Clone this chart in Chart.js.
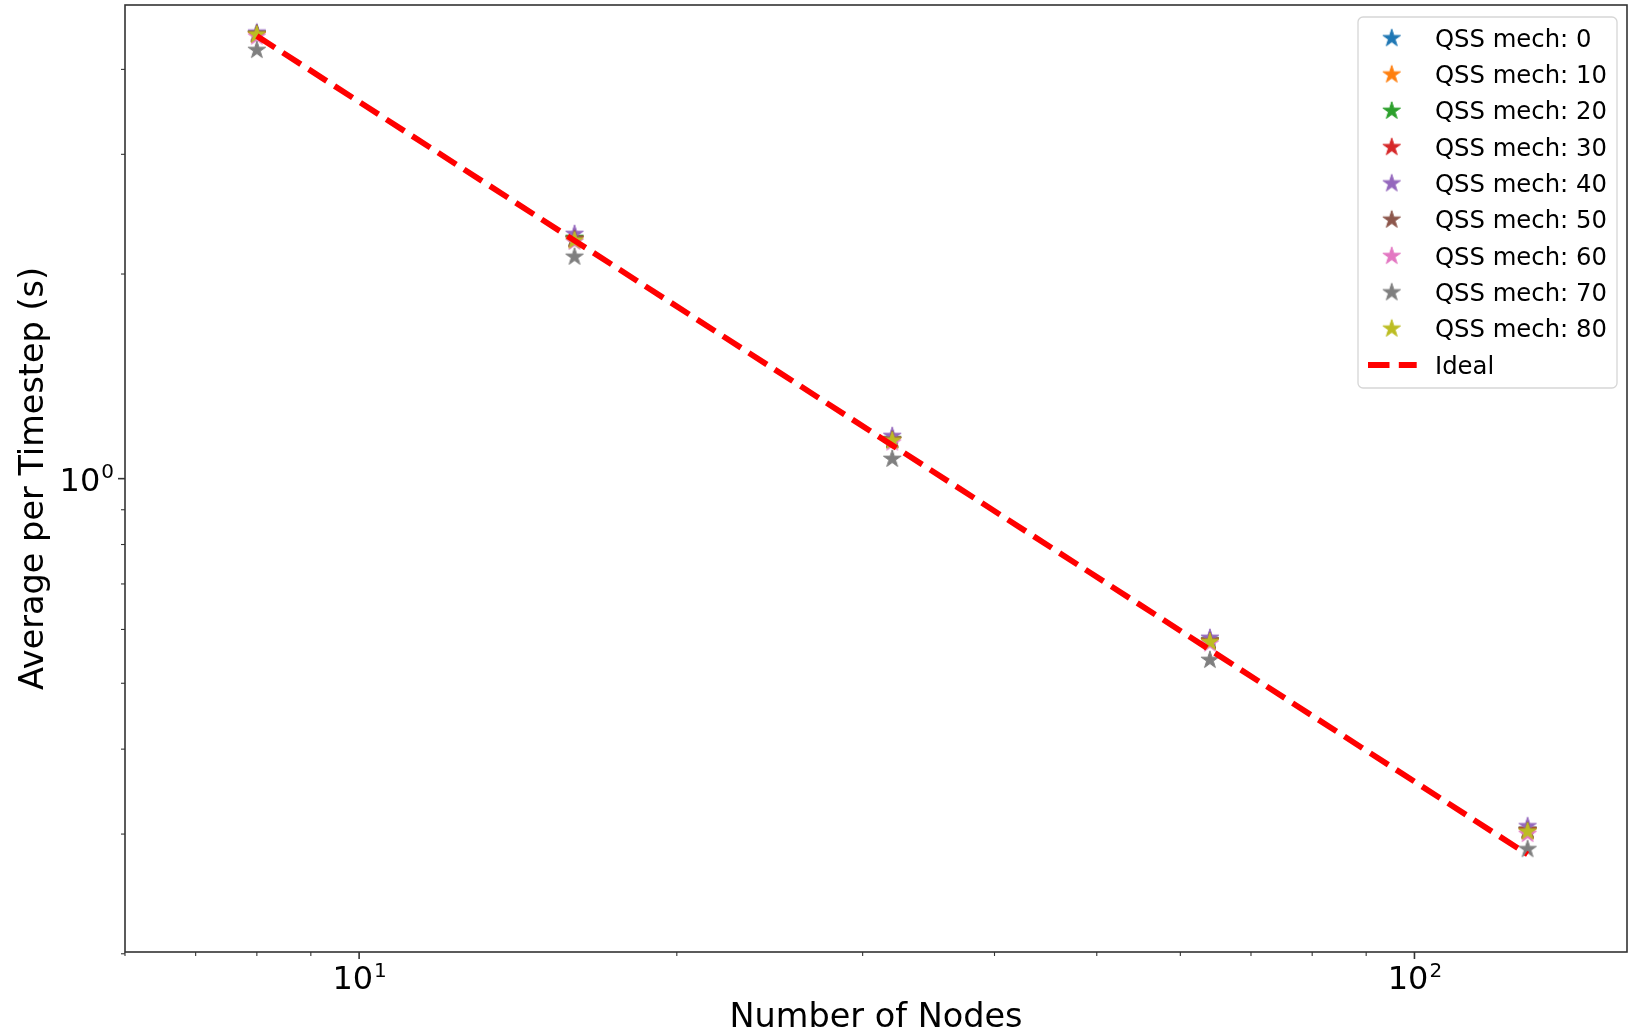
<!DOCTYPE html>
<html>
<head>
<meta charset="utf-8">
<title>Strong scaling: average time per timestep</title>
<style>
  html, body { margin: 0; padding: 0; background: #ffffff; }
  #wrap { width: 1638px; height: 1033px; position: relative; }
  canvas { display: block; }
</style>
<script src="https://cdn.jsdelivr.net/npm/chart.js@4.4.1/dist/chart.umd.min.js"></script>
</head>
<body>
<div id="wrap"><canvas id="chart" width="1638" height="1033"></canvas></div>
<script>
// ---- data -------------------------------------------------------------
const nodes = [8, 16, 32, 64, 128];

const qss0  = [4.51, 2.25, 1.140, 0.577, 0.304];
const qss10 = [4.50, 2.25, 1.140, 0.576, 0.303];
const qss20 = [4.51, 2.26, 1.142, 0.578, 0.304];
const qss30 = [4.50, 2.25, 1.139, 0.577, 0.304];
const qss40 = [4.53, 2.29, 1.155, 0.583, 0.308];
const qss50 = [4.51, 2.25, 1.140, 0.576, 0.303];
const qss60 = [4.47, 2.23, 1.130, 0.572, 0.300];
const qss70 = [4.27, 2.12, 1.069, 0.541, 0.285];
const qss80 = [4.50, 2.24, 1.137, 0.575, 0.3025];

const ideal = [4.48, 2.24, 1.12, 0.56, 0.28];

const seriesNames = ['QSS mech: 0', 'QSS mech: 10', 'QSS mech: 20', 'QSS mech: 30',
                     'QSS mech: 40', 'QSS mech: 50', 'QSS mech: 60', 'QSS mech: 70',
                     'QSS mech: 80'];
const seriesValues = [qss0, qss10, qss20, qss30, qss40, qss50, qss60, qss70, qss80];
const idealName = 'Ideal';

// axis ticks and labels
const xMajorTicks = [10, 100];
const xMinorTicks = [6, 7, 8, 9, 20, 30, 40, 50, 60, 70, 80, 90];
const xTickLabels = ['10^1', '10^2'];
const yMajorTicks = [1];
const yMinorTicks = [0.2, 0.3, 0.4, 0.5, 0.6, 0.7, 0.8, 0.9, 2, 3, 4];
const yTickLabels = ['10^0'];
const xTitle = 'Number of Nodes';
const yTitle = 'Average per Timestep (s)';

// ---- styles -----------------------------------------------------------
const palette = ['#1f77b4', '#ff7f0e', '#2ca02c', '#d62728', '#9467bd',
                 '#8c564b', '#e377c2', '#7f7f7f', '#bcbd22'];
const FONT = "'DejaVu Sans', 'Liberation Sans', sans-serif";
const idealStyle = { color: '#ff0000', width: 5.8, dash: [21.5, 9.3] };

// five-pointed star marker rendered once per colour
function starMarker(color, R) {
  const size = 2 * Math.ceil(R + 2);
  const cv = document.createElement('canvas');
  cv.width = size; cv.height = size;
  const g = cv.getContext('2d');
  const c = size / 2;
  const r = R * 0.381966;
  g.beginPath();
  for (let i = 0; i < 10; i++) {
    const a = -Math.PI / 2 + i * Math.PI / 5;
    const rad = (i % 2 === 0) ? R : r;
    const px = c + rad * Math.cos(a), py = c + rad * Math.sin(a);
    if (i === 0) g.moveTo(px, py); else g.lineTo(px, py);
  }
  g.closePath();
  g.fillStyle = color;
  g.fill();
  g.lineWidth = 1;
  g.lineJoin = 'miter';
  g.strokeStyle = color;
  g.stroke();
  return cv;
}
const stars = palette.map(c => starMarker(c, 9.2));

// ---- datasets ---------------------------------------------------------
const datasets = seriesNames.map((name, i) => ({
  label: name,
  data: nodes.map((n, j) => ({ x: n, y: seriesValues[i][j] })),
  showLine: false,
  pointStyle: stars[i],
  pointRadius: 9,
  pointHoverRadius: 9,
  backgroundColor: palette[i],
  borderColor: palette[i],
  order: seriesNames.length - i
}));
datasets.push({
  label: idealName,
  data: nodes.map((n, j) => ({ x: n, y: ideal[j] })),
  showLine: true,
  borderColor: idealStyle.color,
  borderWidth: idealStyle.width,
  borderDash: idealStyle.dash,
  borderCapStyle: 'butt',
  pointRadius: 0,
  fill: false,
  tension: 0,
  order: 0
});

// ---- frame, ticks, tick labels and legend ----------------------------
function drawPowerLabel(ctx, text, x, baseY, supY, anchor) {
  const [base, exp] = text.split('^');
  ctx.font = '32px ' + FONT;
  const wb = ctx.measureText(base).width;
  ctx.font = '20px ' + FONT;
  const ws = ctx.measureText(exp).width;
  const total = wb + ws;
  const start = anchor === 'center' ? x - total / 2 : x - total;
  ctx.fillStyle = '#000';
  ctx.textAlign = 'left';
  ctx.textBaseline = 'alphabetic';
  ctx.font = '32px ' + FONT;
  ctx.fillText(base, start, baseY);
  ctx.font = '20px ' + FONT;
  ctx.fillText(exp, start + wb + 1, supY);
}

const decorPlugin = {
  id: 'decor',
  afterDatasetsDraw(chart) {
    const { ctx, chartArea: a } = chart;
    const xs = chart.scales.x, ys = chart.scales.y;
    ctx.save();

    // frame
    ctx.strokeStyle = '#333333';
    ctx.lineWidth = 1.6;
    ctx.strokeRect(a.left, a.top, a.right - a.left, a.bottom - a.top);

    // tick marks
    ctx.lineCap = 'butt';
    xs.ticks.forEach(t => {
      const px = xs.getPixelForValue(t.value);
      ctx.lineWidth = t.major ? 1.6 : 1.1;
      ctx.beginPath();
      ctx.moveTo(px, a.bottom);
      ctx.lineTo(px, a.bottom + (t.major ? 7 : 4));
      ctx.stroke();
    });
    ys.ticks.forEach(t => {
      const py = ys.getPixelForValue(t.value);
      ctx.lineWidth = t.major ? 1.6 : 1.1;
      ctx.beginPath();
      ctx.moveTo(a.left, py);
      ctx.lineTo(a.left - (t.major ? 7 : 4), py);
      ctx.stroke();
    });

    // tick labels with superscript exponents
    xMajorTicks.forEach((v, i) => {
      drawPowerLabel(ctx, xTickLabels[i], xs.getPixelForValue(v), a.bottom + 37, a.bottom + 25, 'center');
    });
    yMajorTicks.forEach((v, i) => {
      const py = ys.getPixelForValue(v);
      drawPowerLabel(ctx, yTickLabels[i], a.left - 12, py + 12.5, py - 1, 'right');
    });

    // legend box in the upper right corner
    const lx = 1358, ly = 17, lw = 259, lh = 371, rr = 5;
    ctx.beginPath();
    ctx.moveTo(lx + rr, ly);
    ctx.arcTo(lx + lw, ly, lx + lw, ly + lh, rr);
    ctx.arcTo(lx + lw, ly + lh, lx, ly + lh, rr);
    ctx.arcTo(lx, ly + lh, lx, ly, rr);
    ctx.arcTo(lx, ly, lx + lw, ly, rr);
    ctx.closePath();
    ctx.fillStyle = 'rgba(255,255,255,0.8)';
    ctx.fill();
    ctx.strokeStyle = '#d6d6d6';
    ctx.lineWidth = 1.3;
    ctx.stroke();

    const rowY0 = 38.3, rowStep = 36.3;
    ctx.font = '24.3px ' + FONT;
    ctx.textAlign = 'left';
    ctx.textBaseline = 'alphabetic';
    chart.data.datasets.forEach((ds, i) => {
      const ry = rowY0 + i * rowStep;
      if (ds.showLine) {
        ctx.save();
        ctx.strokeStyle = ds.borderColor;
        ctx.lineWidth = ds.borderWidth;
        ctx.setLineDash(ds.borderDash);
        ctx.beginPath();
        ctx.moveTo(1368, ry);
        ctx.lineTo(1416.7, ry);
        ctx.stroke();
        ctx.restore();
      } else {
        const img = ds.pointStyle;
        ctx.drawImage(img, 1391.7 - img.width / 2, ry - img.height / 2);
      }
      ctx.fillStyle = '#000';
      ctx.fillText(ds.label, 1435, ry + 8.5);
    });

    ctx.restore();
  }
};

// ---- chart ------------------------------------------------------------
new Chart(document.getElementById('chart'), {
  type: 'scatter',
  data: { datasets },
  options: {
    responsive: false,
    animation: false,
    devicePixelRatio: 1,
    events: [],
    layout: { autoPadding: false, padding: { top: 5, right: 11, bottom: 0, left: 0 } },
    plugins: {
      legend: { display: false },
      tooltip: { enabled: false },
      title: { display: false }
    },
    scales: {
      x: {
        type: 'logarithmic',
        position: 'bottom',
        min: 6,
        max: 159,
        bounds: 'data',
        afterBuildTicks: s => {
          s.ticks = [...xMinorTicks, ...xMajorTicks].sort((p, q) => p - q)
            .map(v => ({ value: v, major: xMajorTicks.includes(v) }));
        },
        afterFit: s => { s.height = 81; },
        ticks: { display: false },
        grid: { display: false },
        border: { display: false },
        title: {
          display: true,
          text: xTitle,
          color: '#000',
          font: { family: FONT, size: 33.5, lineHeight: 1 },
          padding: { top: 0, bottom: -2 }
        }
      },
      y: {
        type: 'logarithmic',
        position: 'left',
        min: 0.2012,
        max: 4.975,
        bounds: 'data',
        afterBuildTicks: s => {
          s.ticks = [...yMinorTicks, ...yMajorTicks].sort((p, q) => p - q)
            .map(v => ({ value: v, major: yMajorTicks.includes(v) }));
        },
        afterFit: s => { s.width = 125; },
        ticks: { display: false },
        grid: { display: false },
        border: { display: false },
        title: {
          display: true,
          text: yTitle,
          color: '#000',
          font: { family: FONT, size: 33.5, lineHeight: 1 },
          padding: { top: 18, bottom: 0 }
        }
      }
    }
  },
  plugins: [decorPlugin]
});
</script>
</body>
</html>
